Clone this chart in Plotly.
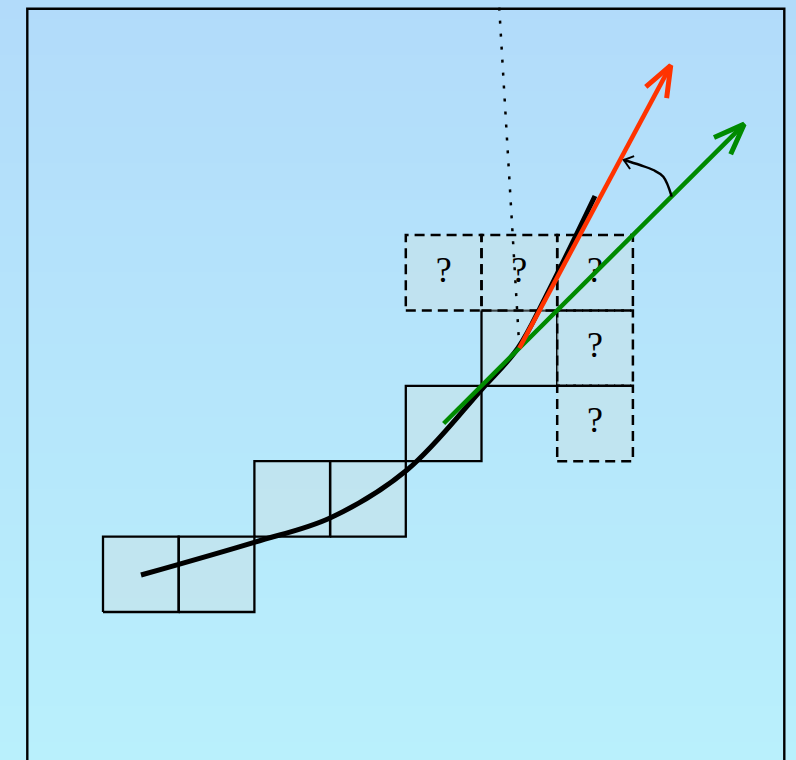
import math
import plotly.graph_objects as go

# ---------------- data (grid units: one cell = 1) ----------------
solid_cell_col = [0, 1, 2, 3, 4, 5]
solid_cell_row = [0, 0, 1, 1, 2, 3]
unknown_cell_col = [4, 5, 6, 6, 6]
unknown_cell_row = [4, 4, 4, 3, 2]
unknown_label = "?"

curve_x = [0.502, 2.008, 2.999, 4.016, 5.007, 5.482, 5.839, 6.499]
curve_y = [0.491, 0.928, 1.247, 1.883, 2.958, 3.501, 4.164, 5.517]

green_x = [4.50, 8.47]
green_y = [2.50, 6.47]
red_x = [5.50, 7.50]
red_y = [3.50, 7.25]
dotted_x = [5.50, 5.20]
dotted_y = [3.50, 8.60]

arc_x = [7.513, 7.402, 7.270, 7.094, 6.880]
arc_y = [5.508, 5.773, 5.862, 5.928, 5.995]

frame_x = [-1, 9, 9, -1, -1]
frame_y = [-3, -3, 8, 8, -3]

# ---------------- view ----------------
W, H = 796, 760
XR = [-1.3606, 9.1545]
YR = [-1.963, 8.1167]
SX = W / (XR[1] - XR[0])
SY = H / (YR[1] - YR[0])


def chevron(tx, ty, bx, by, length_px, half_deg):
    dx = (bx - tx) * SX
    dy = (by - ty) * SY
    n = math.hypot(dx, dy)
    ux, uy = dx / n, dy / n
    xs, ys = [], []
    for s in (1, -1):
        a = math.radians(half_deg) * s
        rx = ux * math.cos(a) - uy * math.sin(a)
        ry = ux * math.sin(a) + uy * math.cos(a)
        xs.append(tx + rx * length_px / SX)
        ys.append(ty + ry * length_px / SY)
    return [xs[0], tx, xs[1]], [ys[0], ty, ys[1]]


def cells_path(cols, rows):
    xs, ys = [], []
    for c, r in zip(cols, rows):
        xs += [c, c + 1, c + 1, c, c, None]
        ys += [r, r, r + 1, r + 1, r, None]
    return xs, ys


fig = go.Figure()

# background gradient
fig.add_trace(go.Heatmap(
    x=XR, y=YR, z=[[0, 0], [1, 1]], zsmooth="best",
    colorscale=[[0, "#b9f0fc"], [1, "#b2dbfa"]],
    showscale=False, hoverinfo="skip"))

cell_fill = "rgba(198,226,232,0.62)"

sx, sy = cells_path(solid_cell_col, solid_cell_row)
fig.add_trace(go.Scatter(x=sx, y=sy, mode="lines", fill="toself",
                         fillcolor=cell_fill,
                         line=dict(color="black", width=2.3),
                         hoverinfo="skip"))
ux, uy = cells_path(unknown_cell_col, unknown_cell_row)
fig.add_trace(go.Scatter(x=ux, y=uy, mode="lines", fill="toself",
                         fillcolor=cell_fill,
                         line=dict(color="black", width=2.5, dash="10px,6px"),
                         hoverinfo="skip"))

fig.add_trace(go.Scatter(
    x=[c + 0.5 for c in unknown_cell_col],
    y=[r + 0.5 for r in unknown_cell_row],
    mode="text", text=[unknown_label] * len(unknown_cell_col),
    textfont=dict(family="Liberation Serif", size=36, color="black"),
    hoverinfo="skip"))

# frame
fig.add_trace(go.Scatter(x=frame_x, y=frame_y, mode="lines",
                         line=dict(color="black", width=2.4), hoverinfo="skip"))

# dotted line
fig.add_trace(go.Scatter(x=dotted_x, y=dotted_y, mode="lines",
                         line=dict(color="black", width=2.5, dash="3px,10px"),
                         hoverinfo="skip"))

# curve
fig.add_trace(go.Scatter(x=curve_x, y=curve_y, mode="lines",
                         line=dict(color="black", width=5, shape="spline",
                                   smoothing=1.0),
                         hoverinfo="skip"))

# green arrow
fig.add_trace(go.Scatter(x=green_x, y=green_y, mode="lines",
                         line=dict(color="#008a00", width=4.5), hoverinfo="skip"))
hx, hy = chevron(green_x[1], green_y[1], green_x[0], green_y[0], 33, 21)
fig.add_trace(go.Scatter(x=hx, y=hy, mode="lines",
                         line=dict(color="#008a00", width=5), hoverinfo="skip"))

# red arrow
fig.add_trace(go.Scatter(x=red_x, y=red_y, mode="lines",
                         line=dict(color="#ff3300", width=4.5), hoverinfo="skip"))
hx, hy = chevron(red_x[1], red_y[1], red_x[0], red_y[0], 33, 21)
fig.add_trace(go.Scatter(x=hx, y=hy, mode="lines",
                         line=dict(color="#ff3300", width=5), hoverinfo="skip"))

# angle arc
fig.add_trace(go.Scatter(x=arc_x, y=arc_y, mode="lines",
                         line=dict(color="black", width=2.5, shape="spline"),
                         hoverinfo="skip"))
hx, hy = chevron(arc_x[-1], arc_y[-1], arc_x[-2], arc_y[-2], 11, 38)
fig.add_trace(go.Scatter(x=hx, y=hy, mode="lines",
                         line=dict(color="black", width=2), hoverinfo="skip"))

fig.update_layout(
    width=W, height=H, autosize=False,
    margin=dict(l=0, r=0, t=0, b=0),
    showlegend=False,
    paper_bgcolor="#b6e6fb", plot_bgcolor="#b6e6fb",
    xaxis=dict(range=XR, visible=False, fixedrange=True),
    yaxis=dict(range=YR, visible=False, fixedrange=True),
)

fig.write_html(
    "out.html",
    config={"displayModeBar": False},
    post_script="document.body.style.margin='0';document.body.style.overflow='hidden';",
)
